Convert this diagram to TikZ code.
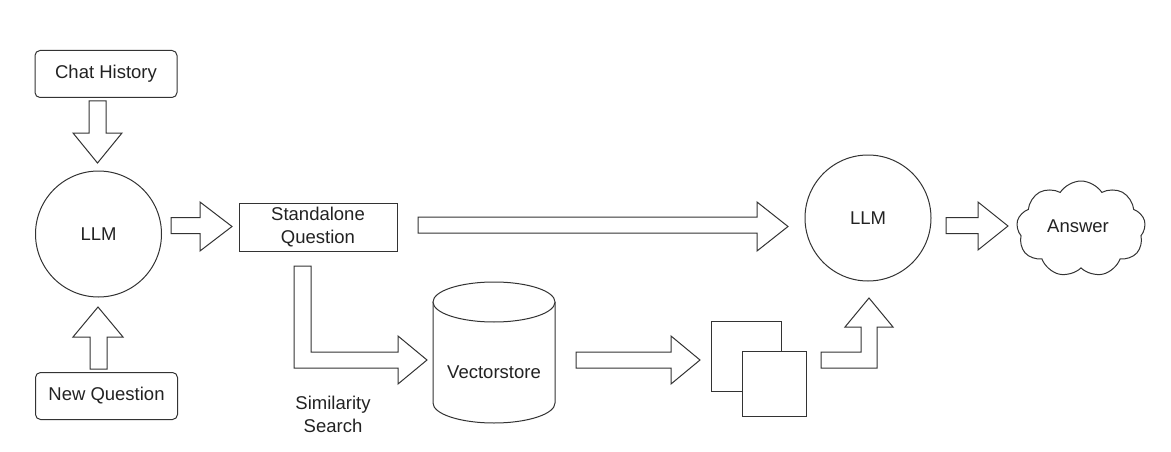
\documentclass[tikz,border=0pt]{standalone}
\usepackage{fontspec}
\setmainfont{Liberation Sans}
\usetikzlibrary{shapes.symbols}
\definecolor{ln}{HTML}{333333}
\definecolor{tx}{HTML}{222222}
\tikzset{
  base/.style={draw=ln, line width=1pt, text=tx, font=\fontsize{18.5}{23}\selectfont, inner sep=0pt, align=center},
  roundbox/.style={base, rounded corners=5pt, minimum width=142, minimum height=47},
  plainbox/.style={base, minimum width=158, minimum height=48},
  llm/.style={base, circle, minimum size=126},
  label/.style={text=tx, font=\fontsize{18.5}{23}\selectfont, inner sep=0pt, align=center},
  blockarrow/.style={draw=ln, line width=1pt, line join=miter, fill=white},
  doc/.style={draw=ln, line width=1pt, fill=white},
}
\begin{document}
\begin{tikzpicture}[x=1pt,y=-1pt]
\useasboundingbox (0,0) rectangle (1171,452);

% nodes
\node[roundbox] (hist) at (106,74) {Chat History};
\node[roundbox] (newq) at (106.5,396) {New Question};
\node[llm] (llm1) at (98.5,234) {LLM};
\node[plainbox] (sq) at (318,227) {Standalone\\Question};
\node[llm] (llm2) at (868,218) {LLM};
\node[base, cloud, cloud puffs=9, cloud puff arc=115, cloud ignores aspect, minimum width=129, minimum height=96] (ans) at (1081,229) {};
\node[label] at (1078,226) {Answer};

% cylinder (vectorstore)
\draw[doc] (433,302) -- (433,403) arc[start angle=180, end angle=0, x radius=61, y radius=20] -- (555,302);
\draw[doc] (494,302) ellipse[x radius=61, y radius=20];
\node[label] (vs) at (494,372) {Vectorstore};
\node[label] (sim) at (333,414.5) {Similarity\\Search};

% documents
\draw[doc] (711,321) rectangle (781,391);
\draw[doc] (742,351) rectangle (806,416);
\coordinate (docs) at (758,368);

% block arrows
% chat history -> llm1 (down)
\draw[blockarrow] (89,101) -- (106,101) -- (106,133) -- (122,133) -- (97.5,163) -- (73,133) -- (89,133) -- cycle;
% new question -> llm1 (up)
\draw[blockarrow] (90,369) -- (107,369) -- (107,337) -- (123,337) -- (98,307) -- (73,337) -- (90,337) -- cycle;
% llm1 -> standalone
\draw[blockarrow] (171,217.5) -- (200,217.5) -- (200,202) -- (232,226.5) -- (200,251) -- (200,233.5) -- (171,233.5) -- cycle;
% standalone -> llm2
\draw[blockarrow] (418,217) -- (757,217) -- (757,202) -- (788,226.5) -- (757,251) -- (757,233) -- (418,233) -- cycle;
% llm2 -> answer
\draw[blockarrow] (946,217.5) -- (978,217.5) -- (978,202) -- (1008,226) -- (978,250) -- (978,233.5) -- (946,233.5) -- cycle;
% standalone -> vectorstore (bent)
\draw[blockarrow] (294,266) -- (311,266) -- (311,352) -- (398,352) -- (398,336) -- (427,360) -- (398,384) -- (398,368) -- (294,368) -- cycle;
% vectorstore -> docs
\draw[blockarrow] (576,352) -- (671,352) -- (671,336) -- (700,360) -- (671,384) -- (671,368) -- (576,368) -- cycle;
% docs -> llm2 (bent up)
\draw[blockarrow] (821,352) -- (861,352) -- (861,327) -- (845,327) -- (869,298) -- (893,327) -- (877,327) -- (877,368) -- (821,368) -- cycle;
\end{tikzpicture}
\end{document}
